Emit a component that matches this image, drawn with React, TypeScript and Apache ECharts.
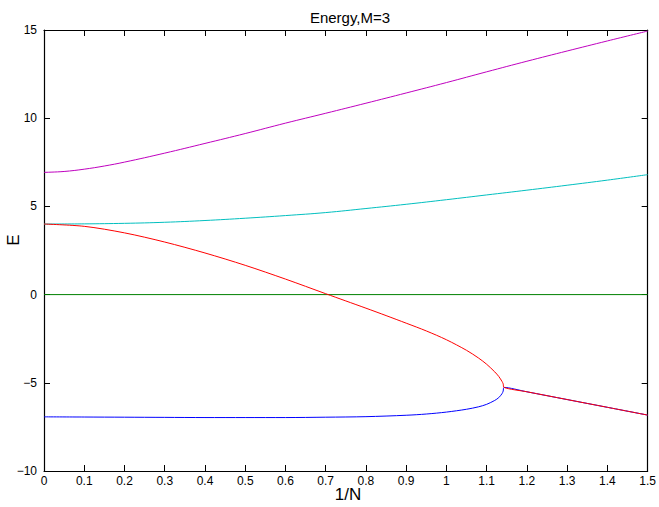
import React, { useEffect, useRef } from "react";
import * as echarts from "echarts";

const magentaX = [0, 0.05, 0.1, 0.15, 0.2, 0.3, 0.4, 0.5, 0.6, 0.7, 0.8, 0.9, 1.0, 1.1, 1.2, 1.3, 1.4, 1.5];
const magentaY = [6.93, 6.98, 7.11, 7.29, 7.51, 8.02, 8.57, 9.13, 9.72, 10.28, 10.85, 11.43, 12.02, 12.63, 13.23, 13.81, 14.38, 14.94];

const cyanX = [0, 0.1, 0.2, 0.3, 0.4, 0.5, 0.6, 0.7, 0.8, 0.9, 1.0, 1.1, 1.2, 1.3, 1.4, 1.5];
const cyanY = [4.0, 4.01, 4.04, 4.1, 4.2, 4.33, 4.48, 4.65, 4.88, 5.12, 5.38, 5.65, 5.92, 6.2, 6.49, 6.8];

const greenX = [0, 1.5];
const greenY = [0, 0];

const redX = [0, 0.1, 0.2, 0.3, 0.4, 0.5, 0.6, 0.7, 0.75, 0.8, 0.85, 0.9, 0.95, 1.0, 1.05, 1.08, 1.1, 1.12, 1.13, 1.138, 1.141, 1.143, 1.2, 1.3, 1.4, 1.5];
const redY = [4.0, 3.87, 3.5, 2.98, 2.36, 1.66, 0.88, 0.05, -0.36, -0.77, -1.19, -1.62, -2.06, -2.56, -3.16, -3.6, -3.95, -4.38, -4.64, -4.92, -5.06, -5.26, -5.51, -5.95, -6.39, -6.83];

const blueX = [0, 0.1, 0.2, 0.3, 0.4, 0.5, 0.6, 0.7, 0.8, 0.9, 0.95, 1.0, 1.05, 1.08, 1.1, 1.12, 1.13, 1.138, 1.141, 1.143, 1.2, 1.3, 1.4, 1.5];
const blueY = [-6.93, -6.94, -6.95, -6.96, -6.97, -6.97, -6.97, -6.95, -6.92, -6.84, -6.77, -6.66, -6.5, -6.36, -6.22, -6.0, -5.84, -5.62, -5.47, -5.26, -5.51, -5.95, -6.39, -6.83];

const titleText = "Energy,M=3";
const xLabel = "1/N";
const yLabel = "E";

const FONT = "'Liberation Sans', Arial, Helvetica, sans-serif";

const zip = (xs: number[], ys: number[]) => xs.map((x, i) => [x, ys[i]]);

export default function App() {
  const ref = useRef<HTMLDivElement>(null);
  useEffect(() => {
    if (!ref.current) return;
    const chart = echarts.init(ref.current, undefined, { renderer: "svg" });
    const axisCommon = {
      axisLine: { show: true, onZero: false, lineStyle: { color: "#000", width: 1.2 } },
      axisTick: { show: true, inside: true, length: 6, lineStyle: { color: "#000", width: 1 } },
      splitLine: { show: false },
    };
    const line = (name: string, xs: number[], ys: number[], color: string, smooth: number | boolean) => ({
      name,
      type: "line",
      data: zip(xs, ys),
      showSymbol: false,
      smooth,
      lineStyle: { color, width: 1 },
      itemStyle: { color },
      xAxisIndex: 0,
      yAxisIndex: 0,
    });
    chart.setOption({
      animation: false,
      backgroundColor: "#fff",
      grid: { left: 44, right: 7, top: 30, bottom: 36, containLabel: false },
      xAxis: [
        {
          type: "value",
          min: 0,
          max: 1.5,
          interval: 0.1,
          position: "bottom",
          ...axisCommon,
          axisLabel: {
            color: "#000",
            fontFamily: FONT,
            fontSize: 12,
            margin: 4,
            formatter: (v: number) => String(Math.round(v * 10) / 10),
          },
        },
        {
          type: "value",
          min: 0,
          max: 1.5,
          interval: 0.1,
          position: "top",
          ...axisCommon,
          axisLabel: { show: false },
        },
      ],
      yAxis: [
        {
          type: "value",
          min: -10,
          max: 15,
          interval: 5,
          position: "left",
          ...axisCommon,
          axisLabel: {
            color: "#000",
            fontFamily: FONT,
            fontSize: 12,
            margin: 7,
            formatter: (v: number) => (v < 0 ? "\u2212" + Math.abs(v) : String(v)),
          },
        },
        {
          type: "value",
          min: -10,
          max: 15,
          interval: 5,
          position: "right",
          ...axisCommon,
          axisLabel: { show: false },
        },
      ],
      graphic: [
        {
          type: "text",
          x: 350,
          y: 17,
          style: { text: titleText, fontFamily: FONT, fontSize: 15, fill: "#000", textAlign: "center", textVerticalAlign: "middle" },
        },
        {
          type: "text",
          x: 348,
          y: 494,
          style: { text: xLabel, fontFamily: FONT, fontSize: 17, fill: "#000", textAlign: "center", textVerticalAlign: "middle" },
        },
        {
          type: "text",
          x: 13,
          y: 240,
          rotation: Math.PI / 2,
          style: { text: yLabel, fontFamily: FONT, fontSize: 17, fill: "#000", textAlign: "center", textVerticalAlign: "middle" },
        },
      ],
      series: [
        line("green", greenX, greenY, "#008000", false),
        line("cyan", cyanX, cyanY, "#00bfbf", 0.4),
        line("magenta", magentaX, magentaY, "#bf00bf", 0.4),
        line("blue", blueX, blueY, "#0000ff", 0.3),
        line("red", redX, redY, "#ff0000", 0.3),
      ],
    });
    return () => chart.dispose();
  }, []);
  return <div ref={ref} style={{ position: "fixed", left: 0, top: 0, width: 659, height: 507 }} />;
}
